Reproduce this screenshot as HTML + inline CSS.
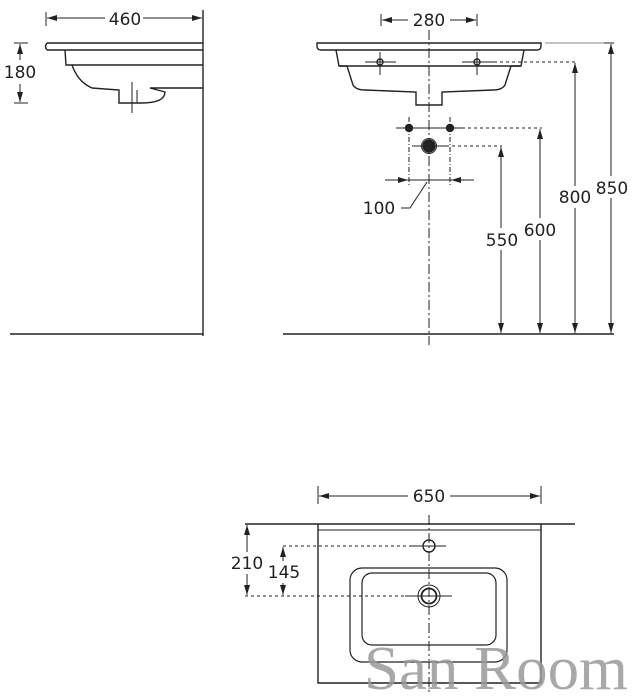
<!DOCTYPE html>
<html><head><meta charset="utf-8"><style>
html,body{margin:0;padding:0;background:#fff;}
svg{display:block;}
text{font-family:"DejaVu Sans","Liberation Sans",sans-serif;fill:#222;}
</style></head><body>
<svg width="634" height="697" viewBox="0 0 634 697" xmlns="http://www.w3.org/2000/svg">
<defs>
<marker id="a" markerWidth="10" markerHeight="6" refX="10" refY="3" orient="auto-start-reverse" markerUnits="userSpaceOnUse"><path d="M0,0 L10,3 L0,6 z" fill="#222"/></marker>
</defs>
<g stroke="#222" fill="none" stroke-width="1.4">
<!-- LEFT VIEW -->
<line x1="203" y1="10" x2="203" y2="336"/>
<line x1="10" y1="334" x2="203" y2="334"/>
<path d="M47,43 L203,43 M47,50 L203,50 M47,43 Q44,46.5 47,50"/>
<path d="M65,50 L66,65 L203,65"/>
<path d="M72,65 Q78,82 92,88 L119,90 L119,103 L141,103 Q165,103 165,92 L150,88 L203,88"/>
<line x1="132" y1="82" x2="132" y2="113" stroke-width="1"/>
<line x1="137" y1="90" x2="137" y2="103" stroke-width="1"/>
<line x1="46" y1="12" x2="46" y2="26" stroke-width="1"/>
<line x1="47" y1="18" x2="105" y2="18" marker-start="url(#a)" stroke-width="1"/>
<line x1="143" y1="18" x2="202" y2="18" marker-end="url(#a)" stroke-width="1"/>
<line x1="14" y1="43" x2="28" y2="43" stroke-width="1"/>
<line x1="14" y1="103" x2="28" y2="103" stroke-width="1"/>
<line x1="20" y1="44" x2="20" y2="60" marker-start="url(#a)" stroke-width="1"/>
<line x1="20" y1="84" x2="20" y2="102" marker-end="url(#a)" stroke-width="1"/>

<!-- RIGHT VIEW -->
<line x1="283" y1="334" x2="614" y2="334"/>
<path d="M317,43 L541,43 L541,46 Q541,50 537,50 L321,50 Q317,50 317,46 Z"/>
<path d="M336,50 L339,66 L521,66 L524,50"/>
<path d="M347,66 L353,85 Q356,90 365,90 L416,92 L416,105 L442,105 L442,92 L493,90 Q502,90 505,85 L511,66"/>
<path d="M340,66 L347,66 M511,66 L520,66"/>
<line x1="429" y1="30" x2="429" y2="345" stroke-dasharray="10,3,2,3" stroke-width="1"/>
<circle cx="380" cy="62" r="3"/><circle cx="477" cy="62" r="3"/>
<line x1="365" y1="62" x2="396" y2="62" stroke-width="1"/><line x1="462" y1="62" x2="494" y2="62" stroke-width="1"/>
<line x1="380" y1="52" x2="380" y2="75" stroke-width="1"/><line x1="477" y1="52" x2="477" y2="75" stroke-width="1"/>
<line x1="381" y1="14" x2="381" y2="26" stroke-width="1"/><line x1="477" y1="14" x2="477" y2="26" stroke-width="1"/>
<line x1="382" y1="20" x2="408" y2="20" marker-start="url(#a)" stroke-width="1"/>
<line x1="450" y1="20" x2="476" y2="20" marker-end="url(#a)" stroke-width="1"/>
<circle cx="409" cy="128" r="3.5" fill="#222"/><circle cx="450" cy="128" r="3.5" fill="#222"/>
<circle cx="429" cy="146" r="6" fill="#222"/><circle cx="429" cy="146" r="7.5" stroke-width="1"/>
<line x1="396" y1="128" x2="462" y2="128" stroke-width="1"/>
<line x1="409" y1="117" x2="409" y2="186" stroke-dasharray="5,2,1,2" stroke-width="1"/>
<line x1="450" y1="117" x2="450" y2="186" stroke-dasharray="5,2,1,2" stroke-width="1"/>
<line x1="412" y1="146" x2="446" y2="146" stroke-width="1"/>
<line x1="385" y1="180" x2="408" y2="180" marker-end="url(#a)" stroke-width="1"/>
<line x1="474" y1="180" x2="451" y2="180" marker-end="url(#a)" stroke-width="1"/>
<line x1="408" y1="180" x2="451" y2="180" stroke-width="1"/>
<path d="M401,208 L410,208 L427,182" stroke-width="1"/>
<line x1="494" y1="62" x2="577" y2="62" stroke-dasharray="3,3" stroke-width="1"/>
<line x1="462" y1="128" x2="542" y2="128" stroke-dasharray="3,3" stroke-width="1"/>
<line x1="446" y1="146" x2="502" y2="146" stroke-dasharray="3,3" stroke-width="1"/>
<line x1="545" y1="43" x2="614" y2="43" stroke-width="1" stroke="#888"/>
<line x1="604" y1="43" x2="614" y2="43" stroke-width="1"/>
<line x1="501" y1="147" x2="501" y2="333" marker-start="url(#a)" marker-end="url(#a)" stroke-width="1"/>
<line x1="540" y1="129" x2="540" y2="333" marker-start="url(#a)" marker-end="url(#a)" stroke-width="1"/>
<line x1="575" y1="63" x2="575" y2="333" marker-start="url(#a)" marker-end="url(#a)" stroke-width="1"/>
<line x1="611" y1="44" x2="611" y2="333" marker-start="url(#a)" marker-end="url(#a)" stroke-width="1"/>

<!-- TOP VIEW -->
<line x1="245" y1="524" x2="575" y2="524"/>
<path d="M318,524 L318,683 L541,683 L541,524"/>
<line x1="318" y1="530" x2="541" y2="530" stroke-width="1"/>
<line x1="318" y1="486" x2="318" y2="504" stroke-width="1"/><line x1="541" y1="486" x2="541" y2="504" stroke-width="1"/>
<line x1="319" y1="496" x2="408" y2="496" marker-start="url(#a)" stroke-width="1"/>
<line x1="450" y1="496" x2="540" y2="496" marker-end="url(#a)" stroke-width="1"/>
<rect x="350" y="568" width="157" height="94" rx="12" stroke-width="1.2"/>
<rect x="362" y="573" width="134" height="72" rx="10" stroke-width="1.2"/>
<line x1="429" y1="515" x2="429" y2="694" stroke-dasharray="10,3,2,3" stroke-width="1"/>
<circle cx="429" cy="546" r="6"/>
<line x1="412" y1="546" x2="446" y2="546" stroke-width="1"/>
<circle cx="429" cy="596" r="11" stroke-width="1"/><circle cx="429" cy="596" r="7.5" stroke-width="1.8"/>
<line x1="405" y1="596" x2="452" y2="596" stroke-width="1"/>
<line x1="283" y1="546" x2="412" y2="546" stroke-dasharray="3,3" stroke-width="1"/>
<line x1="245" y1="596" x2="405" y2="596" stroke-dasharray="3,3" stroke-width="1"/>
<line x1="247" y1="525" x2="247" y2="595" marker-start="url(#a)" marker-end="url(#a)" stroke-width="1"/>
<line x1="283" y1="547" x2="283" y2="595" marker-start="url(#a)" marker-end="url(#a)" stroke-width="1"/>
</g>
<g font-size="17" text-anchor="middle">
<rect x="108" y="8" width="34" height="20" fill="#fff"/>
<text x="125" y="25">460</text>
<rect x="3" y="62" width="36" height="20" fill="#fff"/>
<text x="20" y="78">180</text>
<rect x="410" y="10" width="38" height="20" fill="#fff"/>
<text x="429" y="26">280</text>
<text x="379" y="214">100</text>
<rect x="483" y="228" width="38" height="22" fill="#fff"/>
<text x="502" y="246">550</text>
<rect x="521" y="218" width="38" height="22" fill="#fff"/>
<text x="540" y="236">600</text>
<rect x="556" y="186" width="38" height="22" fill="#fff"/>
<text x="575" y="203">800</text>
<rect x="592" y="176" width="40" height="22" fill="#fff"/>
<text x="612" y="194">850</text>
<rect x="408" y="484" width="42" height="22" fill="#fff"/>
<text x="429" y="502">650</text>
<rect x="229" y="552" width="34" height="22" fill="#fff"/>
<text x="247" y="569">210</text>
<rect x="267" y="561" width="34" height="22" fill="#fff"/>
<text x="284" y="578">145</text>
</g>
<text x="364" y="689" textLength="264" lengthAdjust="spacingAndGlyphs" font-family="'Liberation Serif',serif" font-size="62" style="fill:#999;font-family:'Liberation Serif',serif" opacity="0.85">San Room</text>
</svg>
</body></html>
